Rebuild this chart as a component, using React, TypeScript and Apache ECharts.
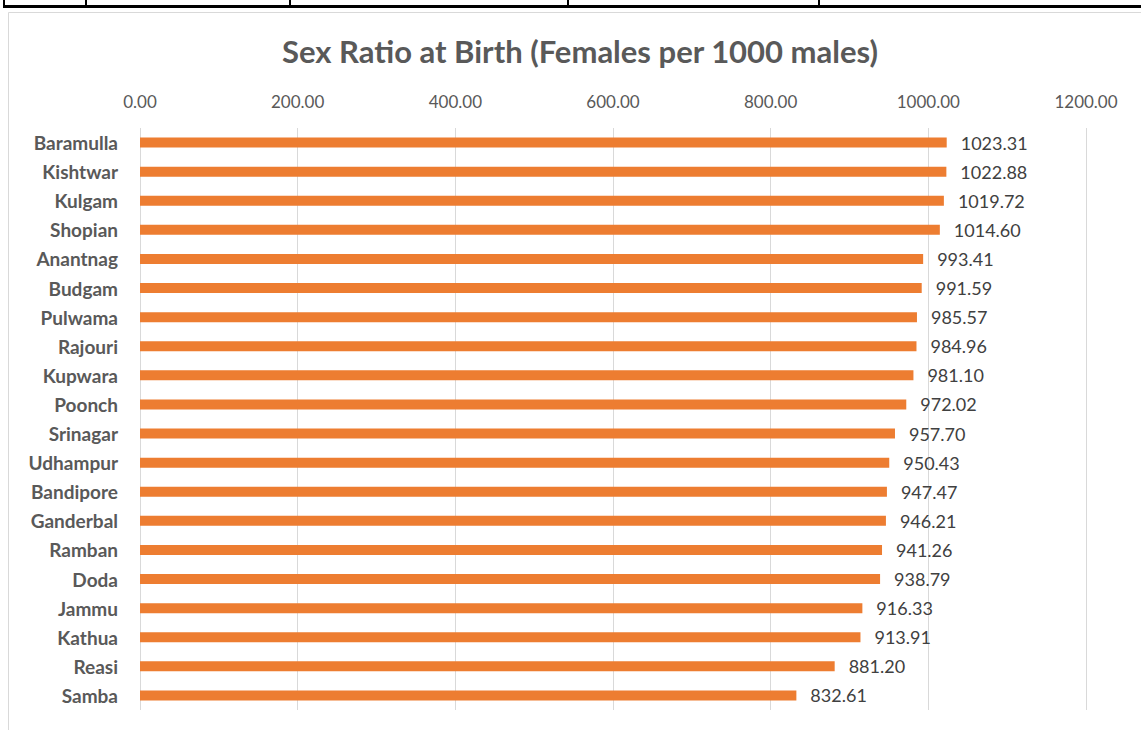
import React, { useEffect, useRef } from "react";
import * as echarts from "echarts";

const categories = [
  "Baramulla", "Kishtwar", "Kulgam", "Shopian", "Anantnag", "Budgam", "Pulwama",
  "Rajouri", "Kupwara", "Poonch", "Srinagar", "Udhampur", "Bandipore", "Ganderbal",
  "Ramban", "Doda", "Jammu", "Kathua", "Reasi", "Samba",
];
const values = [
  1023.31, 1022.88, 1019.72, 1014.6, 993.41, 991.59, 985.57, 984.96, 981.1, 972.02,
  957.7, 950.43, 947.47, 946.21, 941.26, 938.79, 916.33, 913.91, 881.2, 832.61,
];
const xTicks = [0, 200, 400, 600, 800, 1000, 1200];
const title = "Sex Ratio at Birth (Females per 1000 males)";
const tableDividers = [4, 86, 290, 568, 819];

const FONT = "Lato, 'Open Sans', sans-serif";

export default function App() {
  const ref = useRef<HTMLDivElement>(null);
  useEffect(() => {
    if (!ref.current) return;
    const chart = echarts.init(ref.current, null, { renderer: "svg" });
    const graphics: any[] = [
      {
        type: "rect",
        shape: { x: 8.5, y: 12.5, width: 1200, height: 800 },
        style: { fill: "#fff", stroke: "#d9d9d9", lineWidth: 1 },
        z: -10,
      },
      {
        type: "rect",
        shape: { x: 3, y: 5, width: 1141, height: 3 },
        style: { fill: "#000" },
      },
      ...tableDividers.map((x) => ({
        type: "rect",
        shape: { x: x - 1, y: 0, width: 2, height: 7 },
        style: { fill: "#000" },
      })),
    ];
    chart.setOption({
      animation: false,
      backgroundColor: "#fff",
      textStyle: { fontFamily: FONT },
      title: {
        text: title,
        left: 575,
        textAlign: "center",
        top: 30,
        textStyle: { fontFamily: FONT, fontSize: 31, fontWeight: "bold", color: "#595959" },
      },
      graphic: graphics,
      grid: { left: 140, right: 55, top: 128, bottom: 20, containLabel: false },
      xAxis: {
        type: "value",
        position: "top",
        min: xTicks[0],
        max: xTicks[xTicks.length - 1],
        interval: 200,
        axisLine: { show: false },
        axisTick: { show: false },
        axisLabel: {
          formatter: (v: number) => v.toFixed(2),
          color: "#595959",
          fontSize: 17,
          margin: 18,
          fontFamily: FONT,
        },
        splitLine: { show: true, lineStyle: { color: "#d9d9d9", width: 1 } },
      },
      yAxis: {
        type: "category",
        data: categories,
        inverse: true,
        axisLine: { show: false },
        axisTick: { show: false },
        axisLabel: {
          color: "#595959",
          fontSize: 19,
          fontWeight: "bold",
          margin: 22,
          fontFamily: FONT,
        },
      },
      series: [
        {
          type: "bar",
          data: values,
          barWidth: 10,
          itemStyle: { color: "#ED7D31" },
          label: {
            show: true,
            position: "right",
            distance: 14,
            formatter: (p: any) => Number(p.value).toFixed(2),
            color: "#404040",
            fontSize: 18,
            fontFamily: FONT,
          },
        },
      ],
    });
    return () => chart.dispose();
  }, []);
  return (
    <div
      ref={ref}
      style={{ position: "absolute", left: 0, top: 0, width: 1141, height: 730 }}
    />
  );
}
